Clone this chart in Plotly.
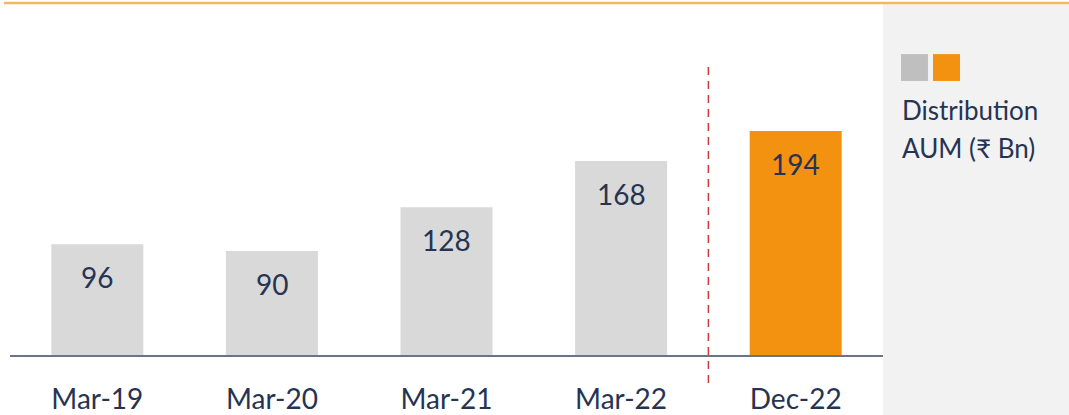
import plotly.graph_objects as go

categories = ["Mar-19", "Mar-20", "Mar-21", "Mar-22", "Dec-22"]
values = [96, 90, 128, 168, 194]
bar_colors = ["#d9d9d9", "#d9d9d9", "#d9d9d9", "#d9d9d9", "#f39210"]
legend_lines = ["Distribution", "AUM (₹ Bn)"]

TXT = "#263452"
FONT = "Lato"

fig = go.Figure()
fig.add_trace(go.Bar(
    x=categories, y=values, marker=dict(color=bar_colors, line=dict(width=0)),
    hoverinfo="skip", showlegend=False,
))

for c, v in zip(categories, values):
    fig.add_annotation(x=c, y=v, xref="x", yref="y", text=str(v), showarrow=False,
                       yshift=-33, yanchor="middle",
                       font=dict(family=FONT, size=28, color=TXT))

shapes = [
    # gray side panel
    dict(type="rect", xref="paper", yref="paper", x0=1.0, x1=1.22, y0=-0.2, y1=1.032,
         fillcolor="#f2f2f2", line=dict(width=0), layer="below"),
    # top orange rule
    dict(type="line", xref="paper", yref="paper", x0=-0.007, x1=1.22, y0=1.035, y1=1.035,
         line=dict(color="#f5b860", width=2.5)),
    # dashed separator
    dict(type="line", xref="x", yref="paper", x0=3.5, x1=3.5, y0=-0.082, y1=0.859,
         line=dict(color="#c9393e", width=1.5, dash="8px,6px")),
    # legend squares
    dict(type="rect", xref="paper", yref="paper", x0=1.0206, x1=1.0515, y0=0.806, y1=0.885,
         fillcolor="#bfbfbf", line=dict(width=0)),
    dict(type="rect", xref="paper", yref="paper", x0=1.0573, x1=1.0882, y0=0.806, y1=0.885,
         fillcolor="#f39210", line=dict(width=0)),
]

for line, yy in zip(legend_lines, [0.7206, 0.6088]):
    fig.add_annotation(xref="paper", yref="paper", x=1.0195, y=yy, xanchor="left", yanchor="middle",
                       text=line, showarrow=False, align="left",
                       font=dict(family=FONT, size=26, color=TXT))

fig.update_layout(
    width=1069, height=415,
    margin=dict(l=10, r=186, t=15, b=60, autoexpand=False),
    paper_bgcolor="white", plot_bgcolor="white",
    bargap=0.473,
    shapes=shapes,
    xaxis=dict(showline=True, linecolor="#6b7387", linewidth=1.5, showgrid=False,
               ticks="", ticklabelstandoff=19, automargin=False,
               tickfont=dict(family=FONT, size=28, color=TXT), fixedrange=True),
    yaxis=dict(range=[0, 294.4], visible=False, showgrid=False, fixedrange=True,
               automargin=False),
)

fig.write_html("out.html", config={"displayModeBar": False},
               post_script="document.body.style.margin='0';document.body.style.overflow='hidden';")
